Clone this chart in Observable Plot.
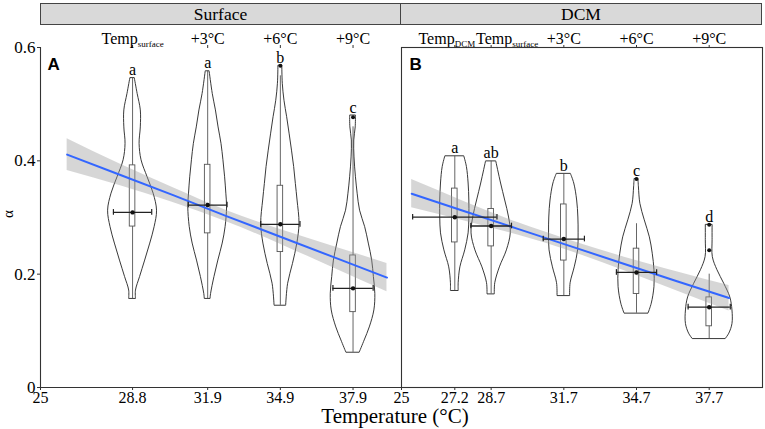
<!DOCTYPE html>
<html><head><meta charset="utf-8">
<script src="https://cdn.jsdelivr.net/npm/d3@7"></script>
<script src="https://cdn.jsdelivr.net/npm/@observablehq/plot@0.6"></script>
<style>
body{margin:0;background:#fff;}
#wrap{position:relative;width:765px;height:429px;font-family:"Liberation Serif",serif;color:#000;overflow:hidden;}
#wrap svg{position:absolute;left:0;top:0;}
#wrap svg text, #wrap svg tspan{font-family:"Liberation Serif","Times New Roman",serif !important;}
#wrap svg .panel-letter text{font-family:"Liberation Sans",Arial,sans-serif !important;}
.strip{position:absolute;top:3px;height:22px;background:#d9d9d9;border:1px solid #444;box-sizing:border-box;text-align:center;font-size:17.5px;line-height:20px;}
#xtitle{position:absolute;left:0;width:790px;top:408px;text-align:center;font-size:21px;line-height:17px;}
#ytitle{position:absolute;left:1px;top:206px;width:14px;height:16px;line-height:16px;text-align:center;font-size:15px;transform:rotate(-90deg);}
</style></head>
<body>
<div id="wrap">
  <div class="strip" style="left:40px;width:361px;">Surface</div>
  <div class="strip" style="left:400px;width:362px;">DCM</div>
  <div id="ytitle">α</div>
  <div id="xtitle">Temperature (°C)</div>
</div>
<script>
// ---------- Surface (panel A) ----------
const surfaceTemps = [28.8, 31.9, 34.9, 37.9];
const surfaceTopLabels = ["Temp_surface", "+3°C", "+6°C", "+9°C"];
const surfaceLetters = ["a", "a", "b", "c"];
const surfaceQ1 = [0.284, 0.272, 0.239, 0.133];
const surfaceQ3 = [0.392, 0.393, 0.356, 0.233];
const surfaceWhiskerLow = [0.157, 0.157, 0.145, 0.062];
const surfaceWhiskerHigh = [0.546, 0.558, 0.55, 0.46];
const surfaceMean = [0.309, 0.322, 0.288, 0.175];
const surfaceTempSD = [0.79, 0.8, 0.81, 0.83];
const surfaceOutliers = [[34.9, 0.568], [37.9, 0.477]];
// violin outlines: [alpha, half-width in °C]
const violinS1 = [[0.157,0.14],[0.171,0.14],[0.195,0.31],[0.224,0.52],[0.254,0.73],[0.283,0.91],[0.312,1.01],[0.342,0.87],[0.371,0.62],[0.401,0.37],[0.430,0.29],[0.459,0.34],[0.489,0.34],[0.518,0.21],[0.546,0.09]];
const violinS2 = [[0.157,0.12],[0.165,0.14],[0.195,0.28],[0.224,0.44],[0.254,0.62],[0.283,0.74],[0.318,0.80],[0.342,0.77],[0.371,0.72],[0.401,0.65],[0.430,0.57],[0.459,0.45],[0.489,0.34],[0.518,0.21],[0.558,0.08]];
const violinS3 = [[0.145,0.24],[0.183,0.32],[0.218,0.52],[0.254,0.70],[0.289,0.79],[0.330,0.71],[0.359,0.64],[0.389,0.57],[0.418,0.48],[0.448,0.38],[0.477,0.28],[0.506,0.17],[0.536,0.10],[0.568,0.08]];
const violinS4 = [[0.062,0.28],[0.083,0.48],[0.106,0.69],[0.136,0.88],[0.165,0.92],[0.195,0.86],[0.224,0.79],[0.254,0.65],[0.283,0.50],[0.312,0.29],[0.342,0.19],[0.371,0.12],[0.406,0.06],[0.436,0.05],[0.459,0.11],[0.480,0.12]];
const surfaceFitTemp = [26.1, 28.3, 30.5, 32.7, 34.9, 37.1, 39.3];
const surfaceFit = [0.411, 0.375, 0.339, 0.302, 0.266, 0.230, 0.194];
const surfaceFitLow = [0.383, 0.356, 0.326, 0.292, 0.253, 0.211, 0.169];
const surfaceFitHigh = [0.439, 0.394, 0.352, 0.312, 0.279, 0.249, 0.219];

// ---------- DCM (panel B) ----------
const dcmTemps = [27.2, 28.7, 31.7, 34.7, 37.7];
const dcmTopLabels = ["Temp_DCM", "Temp_surface", "+3°C", "+6°C", "+9°C"];
const dcmLetters = ["a", "ab", "b", "c", "d"];
const dcmQ1 = [0.256, 0.249, 0.224, 0.165, 0.108];
const dcmQ3 = [0.351, 0.315, 0.323, 0.245, 0.159];
const dcmWhiskerLow = [0.171, 0.165, 0.162, 0.131, 0.086];
const dcmWhiskerHigh = [0.408, 0.399, 0.377, 0.289, 0.200];
const dcmMean = [0.3005, 0.285, 0.262, 0.203, 0.1417];
const dcmTempSD = [1.74, 0.84, 0.85, 0.83, 0.87];
const dcmOutliers = [[34.7, 0.368], [37.7, 0.287], [37.7, 0.242]];
const violinD1 = [[0.171,0.16],[0.184,0.16],[0.212,0.23],[0.242,0.43],[0.272,0.57],[0.300,0.60],[0.330,0.60],[0.360,0.57],[0.389,0.50],[0.408,0.39]];
const violinD2 = [[0.165,0.15],[0.184,0.17],[0.212,0.36],[0.242,0.65],[0.272,0.81],[0.300,0.74],[0.330,0.58],[0.360,0.41],[0.399,0.21]];
const violinD3 = [[0.162,0.26],[0.184,0.28],[0.212,0.45],[0.242,0.59],[0.272,0.61],[0.300,0.60],[0.330,0.55],[0.360,0.43],[0.377,0.29]];
const violinD4 = [[0.131,0.50],[0.148,0.63],[0.177,0.74],[0.207,0.74],[0.236,0.67],[0.265,0.55],[0.295,0.34],[0.324,0.16],[0.353,0.10],[0.368,0.08]];
const violinD5 = [[0.086,0.69],[0.095,0.83],[0.112,0.96],[0.136,0.96],[0.159,0.87],[0.183,0.62],[0.207,0.34],[0.230,0.15],[0.260,0.14],[0.287,0.14]];
const dcmFitTemp = [25.42, 27.6, 29.8, 32.0, 34.2, 36.4, 38.52];
const dcmFit = [0.342, 0.311, 0.280, 0.249, 0.218, 0.187, 0.158];
const dcmFitLow = [0.317, 0.294, 0.269, 0.240, 0.206, 0.170, 0.135];
const dcmFitHigh = [0.367, 0.328, 0.291, 0.259, 0.230, 0.204, 0.180];

const yTicks = [0, 0.2, 0.4, 0.6];
const xDomain = [25, 39.9];

function panel(o) {
  const violinRows = o.violins.flatMap((v, i) => v.map(([a, h]) => ({g: i, t: o.temps[i], a, h})));
  const groups = o.temps.map((t, i) => ({
    t, q1: o.q1[i], q3: o.q3[i], lo: o.lo[i], hi: o.hi[i], mean: o.mean[i], sd: o.sd[i],
    letter: o.letters[i], top: d3.max(o.violins[i], d => d[0])
  }));
  const fit = o.fitT.map((t, i) => ({t, y: o.fitY[i], lo: o.fitLo[i], hi: o.fitHi[i]}));
  const caps = groups.flatMap(g => [{x: g.t - g.sd, y: g.mean}, {x: g.t + g.sd, y: g.mean}]);
  const capH = 0.005, boxHW = 0.115;
  const marks = [
    Plot.areaX(violinRows, {y: "a", x1: d => d.t - d.h, x2: d => d.t + d.h, z: "g", fill: "none", stroke: "#222", strokeWidth: 0.9, curve: "catmull-rom"}),
    Plot.ruleX(groups, {x: "t", y1: "lo", y2: "hi", stroke: "#555", strokeWidth: 0.9}),
    Plot.rect(groups, {x1: d => d.t - boxHW, x2: d => d.t + boxHW, y1: "q1", y2: "q3", fill: "white", stroke: "#555", strokeWidth: 0.9}),
    Plot.areaY(fit, {x: "t", y1: "lo", y2: "hi", fill: "#999", fillOpacity: 0.4, curve: "natural"}),
    Plot.line(fit, {x: "t", y: "y", stroke: "#3366FF", strokeWidth: 2}),
    Plot.ruleY(groups, {y: "mean", x1: d => d.t - d.sd, x2: d => d.t + d.sd, stroke: "#222", strokeWidth: 1.3}),
    Plot.ruleX(caps, {x: "x", y1: d => d.y - capH, y2: d => d.y + capH, stroke: "#222", strokeWidth: 1.2}),
    Plot.dot(groups, {x: "t", y: "mean", r: 2.2, fill: "#111"}),
    Plot.dot(o.outliers, {x: d => d[0], y: d => d[1], r: 2, fill: "#111"}),
    Plot.text(groups, {x: "t", y: "top", text: "letter", lineAnchor: "bottom", dy: -3, fontSize: 16}),
    Plot.axisX({anchor: "top", ticks: o.temps, tickSize: 3, tickFormat: () => "", label: null, stroke: "#333"}),
    ...o.topLabels.map((lab, i) => Plot.text([o.temps[i]], {x: d => d, frameAnchor: "top", text: () => lab, lineAnchor: "bottom", dy: -4, dx: o.topDx[i], fontSize: 16})),
    Plot.axisX({anchor: "bottom", ticks: [25, ...o.temps], tickSize: 3, tickPadding: 1, tickFormat: d => String(d), label: null, fontSize: 16, stroke: "#333"}),
    Plot.text([o.panelLetter], {frameAnchor: "top-left", dx: o.letterDx, dy: 10, lineAnchor: "top", text: d => d, fontWeight: "bold", fontSize: 17, className: "panel-letter"})
  ];
  if (o.boxed) {
    marks.push(Plot.frame({stroke: "#333", strokeWidth: 1.1}));
  } else {
    marks.push(Plot.axisY({ticks: yTicks, tickSize: 3, tickPadding: 2, tickFormat: d => d === 0 ? "0" : d.toFixed(1), label: null, fontSize: 17, stroke: "#333"}));
    marks.push(Plot.ruleX([25], {stroke: "#333", strokeWidth: 1.1}));
    marks.push(Plot.ruleY([0], {stroke: "#333", strokeWidth: 1.1}));
  }
  const svg = Plot.plot({
    width: 765, height: 429,
    marginLeft: o.marginLeft, marginRight: o.marginRight, marginTop: 47, marginBottom: 42,
    x: {domain: xDomain},
    y: {domain: [0, 0.6], axis: o.boxed ? null : undefined},
    style: {fontSize: "16px", background: "transparent", color: "#000", overflow: "visible"},
    marks
  });
  d3.select(svg).selectAll("text").each(function () {
    const t = this.textContent;
    if (t.includes("_") && this.childElementCount === 0) {
      const [a, b] = t.split("_");
      const s = d3.select(this);
      s.text(a);
      s.append("tspan").attr("font-size", "9px").attr("dy", "3").text(b);
    }
  });
  return svg;
}

const wrap = document.getElementById("wrap");
wrap.prepend(panel({
  temps: dcmTemps, violins: [violinD1, violinD2, violinD3, violinD4, violinD5],
  q1: dcmQ1, q3: dcmQ3, lo: dcmWhiskerLow, hi: dcmWhiskerHigh, mean: dcmMean, sd: dcmTempSD,
  outliers: dcmOutliers, fitT: dcmFitTemp, fitY: dcmFit, fitLo: dcmFitLow, fitHi: dcmFitHigh,
  letters: dcmLetters, topLabels: dcmTopLabels, topDx: [-8, 16, 0, 0, 0],
  marginLeft: 401, marginRight: 3, boxed: true, panelLetter: "B", letterDx: 8
}));
wrap.prepend(panel({
  temps: surfaceTemps, violins: [violinS1, violinS2, violinS3, violinS4],
  q1: surfaceQ1, q3: surfaceQ3, lo: surfaceWhiskerLow, hi: surfaceWhiskerHigh, mean: surfaceMean, sd: surfaceTempSD,
  outliers: surfaceOutliers, fitT: surfaceFitTemp, fitY: surfaceFit, fitLo: surfaceFitLow, fitHi: surfaceFitHigh,
  letters: surfaceLetters, topLabels: surfaceTopLabels, topDx: [0, 0, 0, 0],
  marginLeft: 40, marginRight: 364, boxed: false, panelLetter: "A", letterDx: 7
}));
</script>
</body></html>
